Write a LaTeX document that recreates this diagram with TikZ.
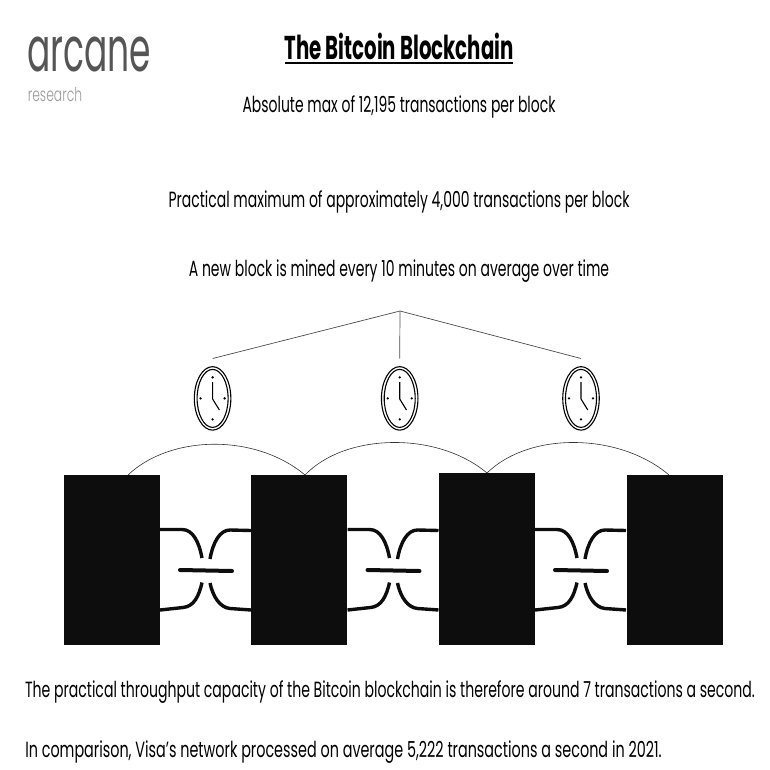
\documentclass[tikz,border=0pt]{standalone}
\usepackage{fontspec}
\setmainfont{Poppins}
\newfontfamily\logofont{Poppins Light}
\usetikzlibrary{shapes.geometric}
\definecolor{logogray}{HTML}{555555}
\definecolor{subgray}{HTML}{999999}
\tikzstyle{block} = [fill=black!95,draw=none,inner sep=0pt,minimum width=96pt,minimum height=170pt,anchor=north west]
\tikzstyle{caption} = [inner sep=0pt,anchor=base,font=\fontsize{22}{26}\selectfont,transform shape]
\tikzstyle{treeline} = [line width=.7pt,black!70]
\tikzstyle{arcline} = [line width=.6pt,black!80]
\tikzstyle{linkline} = [line width=3.4pt,black!95]
\tikzstyle{barline} = [line width=4pt,black!95,line cap=round]
\tikzstyle{clockface} = [draw,ellipse,inner sep=0pt,line width=1.1pt]
\begin{document}
\begin{tikzpicture}[x=1pt,y=-1pt]
	\useasboundingbox (0,0) rectangle (770,770);
	% header
	\node[inner sep=0pt,anchor=base,text=logogray,font=\fontsize{62}{62}\selectfont,xscale=.556] (logo) at (89,72) {arcane};
	\node[inner sep=0pt,anchor=base,text=subgray,font=\logofont\fontsize{19}{19}\selectfont,xscale=.65] (logosub) at (55,102) {research};
	\node[inner sep=0pt,anchor=base,font=\bfseries\fontsize{33}{36}\selectfont,xscale=.598] (title) at (399,59.5) {The Bitcoin Blockchain};
	\coordinate (ulleft) at (285,63);
	\coordinate (ulright) at (513,63);
	\draw[line width=1.4pt] (ulleft) -- (ulright);
	\node[caption,xscale=.634] (maxabs) at (399,113) {Absolute max of 12,195 transactions per block};
	\node[caption,xscale=.636] (maxprac) at (399,207) {Practical maximum of approximately 4,000 transactions per block};
	\node[caption,xscale=.636] (mined) at (399,276) {A new block is mined every 10 minutes on average over time};
	\node[caption,xscale=.639] (through) at (390,697.3) {The practical throughput capacity of the Bitcoin blockchain is therefore around 7 transactions a second.};
	\node[caption,xscale=.653] (visa) at (343.5,757) {In comparison, Visa’s network processed on average 5,222 transactions a second in 2021.};
	% blocks
	\node[block] (b1) at (64,475) {};
	\node[block] (b2) at (251,475) {};
	\node[block,minimum height=172pt] (b3) at (439,473) {};
	\node[block] (b4) at (627,475) {};
	% arcs over the blocks
	\coordinate (a1) at (128,475);
	\coordinate (a2) at (305,475);
	\coordinate (a3) at (487,473);
	\coordinate (a4) at (669,475);
	\draw[arcline] (a1) .. controls (170,435) and (255,433) .. (a2);
	\draw[arcline] (a2) .. controls (345,433) and (437,431) .. (a3);
	\draw[arcline] (a3) .. controls (530,431) and (620,433) .. (a4);
	% clocks
	\coordinate (apex) at (400,311);
	\foreach \name/\px in {c1/212.6,c2/399.7,c3/581} {
		\node[clockface,minimum width=36.5pt,minimum height=63.5pt] (\name) at (\px,398.4) {};
		\node[clockface,minimum width=31pt,minimum height=58pt] (\name i) at (\px,398.4) {};
		\coordinate (\name top) at (\px,358.5);
		\draw[treeline] (apex) -- (\name top);
		\coordinate (\name hub) at (\px,399);
		\coordinate (\name h) at (\px,382);
		\coordinate (\name m) at (\px+6.8,410);
		\draw[line width=1.1pt] (\name h) -- (\name hub) -- (\name m);
		\foreach \dx/\dy in {0/-21,0/21,-12/0,12/0}
			\fill (\px+\dx,398.4+\dy) circle (1.3pt);
	}
	% links between the blocks
	\foreach \name/\px in {k1/160,k2/347.5,k3/535} {
		\coordinate (\name tl) at (\px,529.5);
		\coordinate (\name tr) at (\px+91,530.5);
		\coordinate (\name bl) at (\px,610);
		\coordinate (\name br) at (\px+91,610);
		\coordinate (\name m1) at (\px+20,570);
		\coordinate (\name m2) at (\px+72,571);
		\draw[linkline] (\name tl) -- (\px+22,529.5) .. controls (\px+33,529.5) and (\px+39,542) .. (\px+42,558);
		\draw[linkline] (\name tr) -- (\px+70,530) .. controls (\px+60,530) and (\px+53,542) .. (\px+50,559);
		\draw[linkline] (\name bl) -- (\px+23,607.5) .. controls (\px+34,606.5) and (\px+39,596) .. (\px+42,582.5);
		\draw[linkline] (\name br) -- (\px+70,608.5) .. controls (\px+60,607.5) and (\px+53,597) .. (\px+50,583);
		\draw[barline] (\name m1) -- (\name m2);
	}
\end{tikzpicture}
\end{document}
